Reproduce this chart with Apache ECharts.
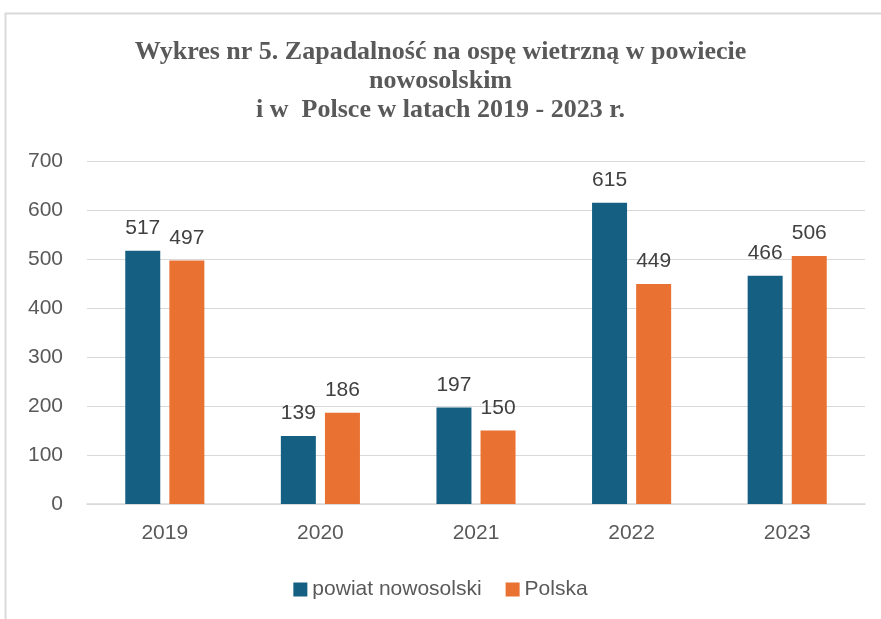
<!DOCTYPE html>
<html>
<head>
<meta charset="utf-8">
<script src="https://cdn.jsdelivr.net/npm/echarts@6/dist/echarts.min.js"></script>
<style>
  html, body { margin: 0; padding: 0; background: #fff; }
  #chart { width: 881px; height: 619px; }
</style>
</head>
<body>
<div id="chart"></div>
<script>
const years = ['2019', '2020', '2021', '2022', '2023']
const powiatValues = [517, 139, 197, 615, 466]
const polskaValues = [497, 186, 150, 449, 506]
const seriesNames = ['powiat nowosolski', 'Polska']
const titleText = 'Wykres nr 5. Zapadalność na ospę wietrzną w powiecie\nnowosolskim\ni w  Polsce w latach 2019 - 2023 r.'

const chart = echarts.init(document.getElementById('chart'))

const labelStyle = {
  show: true,
  position: 'top',
  distance: 12,
  color: '#404040',
  fontSize: 21,
  fontFamily: 'Liberation Sans'
}

const option = {
  animation: false,
  graphic: [
    {
      type: 'rect',
      shape: { x: 5.5, y: 13.5, width: 900, height: 700 },
      style: { fill: 'none', stroke: '#d9d9d9', lineWidth: 2 }
    }
  ],
  title: {
    text: titleText,
    left: 'center',
    top: 33,
    textStyle: {
      fontFamily: 'Liberation Serif',
      fontWeight: 'bold',
      fontSize: 26,
      lineHeight: 29,
      color: '#595959'
    }
  },
  legend: {
    data: seriesNames,
    top: 574,
    left: 'center',
    itemWidth: 14,
    itemHeight: 14,
    itemGap: 24,
    icon: 'rect',
    textStyle: {
      color: '#595959',
      fontSize: 21,
      fontFamily: 'Liberation Sans',
      padding: [0, 0, 0, 0]
    }
  },
  grid: {
    left: 87,
    right: 16,
    top: 161,
    bottom: 115
  },
  xAxis: {
    type: 'category',
    data: years,
    axisLine: { lineStyle: { color: '#d9d9d9', width: 1.5 } },
    axisTick: { show: false },
    axisLabel: {
      color: '#595959',
      fontSize: 21,
      fontFamily: 'Liberation Sans',
      margin: 19
    }
  },
  yAxis: {
    type: 'value',
    min: 0,
    max: 700,
    interval: 100,
    axisLine: { show: false },
    axisTick: { show: false },
    axisLabel: {
      color: '#595959',
      fontSize: 21,
      fontFamily: 'Liberation Sans',
      margin: 24
    },
    splitLine: { lineStyle: { color: '#d9d9d9' } }
  },
  series: [
    {
      name: seriesNames[0],
      type: 'bar',
      data: powiatValues,
      barWidth: 35,
      barGap: '26%',
      itemStyle: { color: '#156082' },
      label: labelStyle
    },
    {
      name: seriesNames[1],
      type: 'bar',
      data: polskaValues,
      barWidth: 35,
      itemStyle: { color: '#E97132' },
      label: labelStyle
    }
  ]
}

chart.setOption(option)
</script>
</body>
</html>
